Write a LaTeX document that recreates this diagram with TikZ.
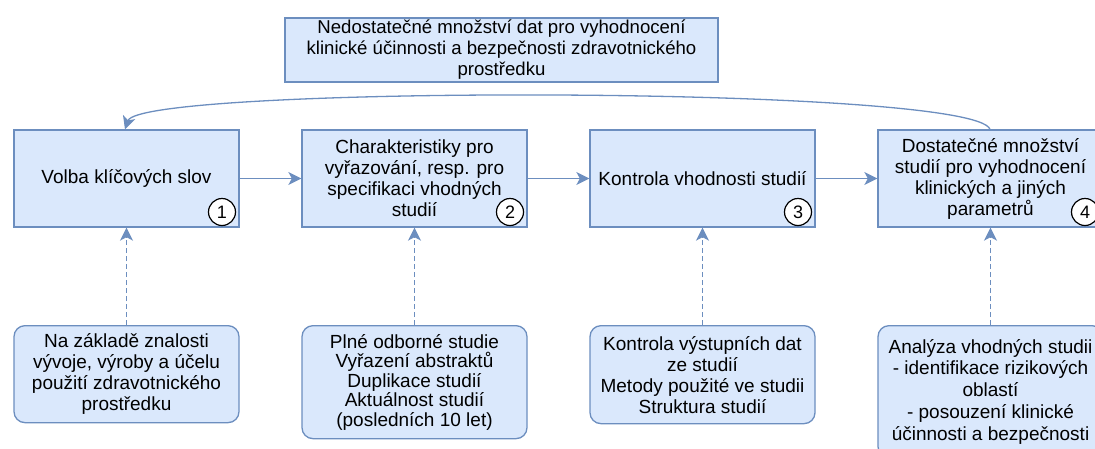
\documentclass[tikz,border=0pt]{standalone}
\usepackage{fontspec}
\setmainfont{Liberation Sans}
\usetikzlibrary{arrows.meta}
\definecolor{boxfill}{HTML}{DAE8FC}
\definecolor{boxline}{HTML}{6C8EBF}
\begin{document}
\begin{tikzpicture}[x=1pt,y=-1pt,
  txt/.style={font=\fontsize{19}{21}\selectfont, align=center, inner sep=0pt},
  stepbox/.style={txt, draw=boxline, fill=boxfill, line width=1.3pt,
    minimum width=225pt, minimum height=97pt},
  notebox/.style={stepbox, rounded corners=11pt, anchor=north},
  badge/.style={circle, draw=black, fill=white, line width=1.2pt,
    minimum size=27pt, inner sep=0pt, font=\fontsize{18}{18}\selectfont},
  flow/.style={draw=boxline, line width=1.3pt,
    -{Stealth[length=13pt,width=13pt,inset=3.5pt]}},
  hint/.style={flow, dash pattern=on 5pt off 3pt}]
\useasboundingbox (0,0) rectangle (1095,448);
\clip (0,0) rectangle (1095,448);

% problem statement
\node[stepbox, minimum width=433pt, minimum height=64pt, font=\fontsize{18.6}{21}\selectfont] (lack) at (501.5,50)
  {Nedostatečné množství dat pro vyhodnocení\\klinické účinnosti a bezpečnosti zdravotnického\\prostředku};

% main steps
\node[stepbox] (s1) at (126.5,178.5) {Volba klíčových slov};
\node[stepbox] (s2) at (414.5,178.5) {Charakteristiky pro\\vyřazování, resp. pro\\specifikaci vhodných\\studií};
\node[stepbox] (s3) at (702.5,178.5) {Kontrola vhodnosti studií};
\node[stepbox] (s4) at (990.5,178.5) {Dostatečné množství\\studií pro vyhodnocení\\klinických a jiných\\parametrů};

% step numbers
\node[badge] (n1) at (222,212) {1};
\node[badge] (n2) at (510,212) {2};
\node[badge] (n3) at (798,212) {3};
\node[badge] (n4) at (1085,212) {4};

% supporting notes
\node[notebox] (d1) at (126.5,325) {Na základě znalosti\\vývoje, výroby a účelu\\použití zdravotnického\\prostředku};
\node[notebox, minimum height=113pt, font=\fontsize{19}{19.5}\selectfont] (d2) at (414.5,325)
  {Plné odborné studie\\Vyřazení abstraktů\\Duplikace studií\\Aktuálnost studií\\(posledních 10 let)};
\node[notebox, minimum height=98pt] (d3) at (702.5,325) {Kontrola výstupních dat\\ze studií\\Metody použité ve studii\\Struktura studií};
\node[notebox, minimum height=132pt, font=\fontsize{19}{21.8}\selectfont] (d4) at (990.5,325)
  {Analýza vhodných studii\\- identifikace rizikových\\oblastí\\- posouzení klinické\\účinnosti a bezpečnosti};

% flow between steps
\draw[flow] (s1.east) -- (s2.west);
\draw[flow] (s2.east) -- (s3.west);
\draw[flow] (s3.east) -- (s4.west);

% notes feeding the steps
\draw[hint] (d1.north) -- (s1.south);
\draw[hint] (d2.north) -- (s2.south);
\draw[hint] (d3.north) -- (s3.south);
\draw[hint] (d4.north) -- (s4.south);

% loop back
\draw[flow] (s4.north -| 990,0) .. controls (975,85) and (140,85) .. (s1.north -| 125,0);
\end{tikzpicture}
\end{document}
